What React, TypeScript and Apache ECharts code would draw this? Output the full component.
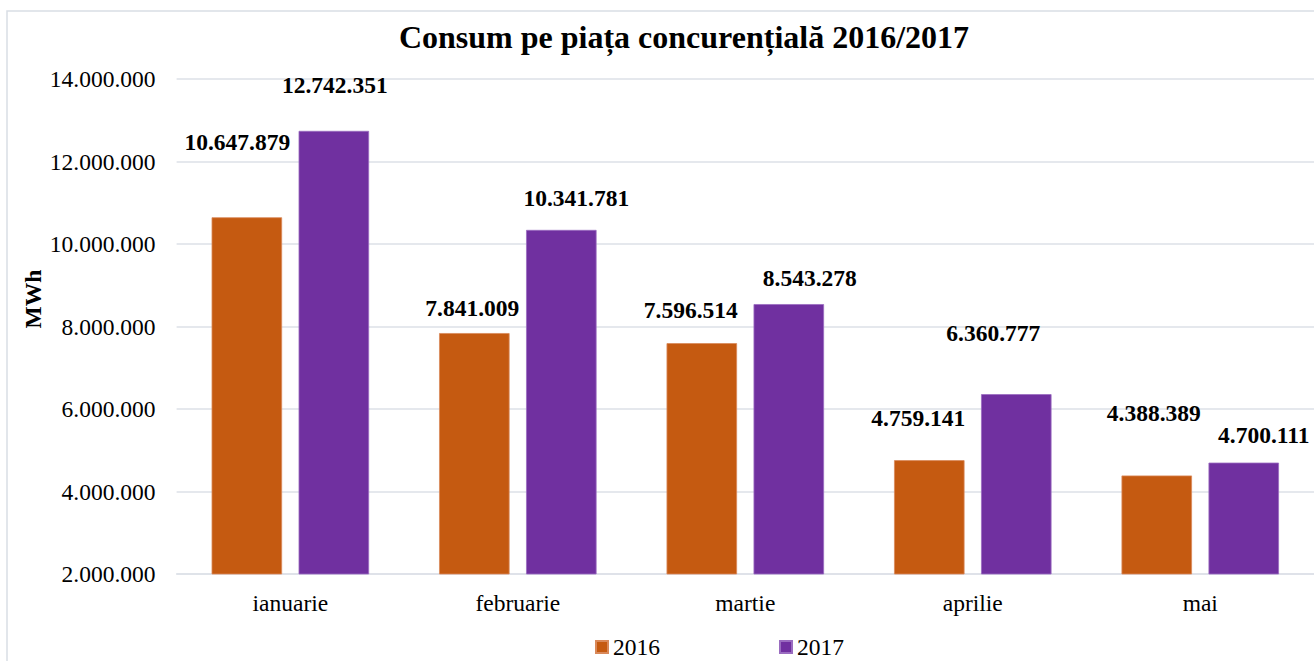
import React, { useEffect, useRef } from "react";
import * as echarts from "echarts";

const categories = ["ianuarie", "februarie", "martie", "aprilie", "mai"];
const values2016 = [10647879, 7841009, 7596514, 4759141, 4388389];
const values2017 = [12742351, 10341781, 8543278, 6360777, 4700111];
const seriesNames = ["2016", "2017"];
const yTicks = { min: 2000000, max: 14000000, interval: 2000000 };

// manual label offsets (like the moved labels of the original)
const offsets2016: [number, number][] = [[-9.5, -63], [-2, -13], [-11, -21], [-11, -30], [-3, -50]];
const offsets2017: [number, number][] = [[1, -34], [15, -20], [21, -14], [-23, -49], [20, -16]];

const FONT = "'Liberation Serif', 'Times New Roman', serif";

function fmt(v: number): string {
  const s = Math.round(v).toString();
  return s.replace(/\B(?=(\d{3})+(?!\d))/g, ".");
}

export default function App() {
  const ref = useRef<HTMLDivElement>(null);
  useEffect(() => {
    if (!ref.current) return;
    const chart = echarts.init(ref.current, undefined, { renderer: "svg" });
    const labelBase = {
      show: true,
      position: "top",
      distance: 0,
      fontFamily: FONT,
      fontWeight: "bold",
      fontSize: 23.5,
      lineHeight: 24,
      color: "#000",
      formatter: (p: any) => fmt(p.value),
    };
    const mk = (vals: number[], offs: [number, number][]) =>
      vals.map((v, i) => ({ value: v, label: { offset: offs[i] } }));
    chart.setOption({
      animation: false,
      title: {
        text: "Consum pe piața concurențială 2016/2017",
        left: 684,
        top: 21,
        padding: 0,
        textAlign: "center",
        textStyle: { fontFamily: FONT, fontWeight: "bold", fontSize: 32, color: "#000" },
      },
      graphic: [
        {
          type: "rect",
          shape: { x: 7, y: 11, width: 1330, height: 680 },
          style: { fill: "none", stroke: "#d9dee5", lineWidth: 1.5 },
          silent: true,
          z: -1,
        },
        {
          type: "text",
          x: 33,
          y: 299,
          rotation: Math.PI / 2,
          style: {
            text: "MWh",
            fontFamily: FONT,
            fontWeight: "bold",
            fontSize: 23.5,
            fill: "#000",
            align: "center",
            verticalAlign: "middle",
          },
        },
      ],
      legend: {
        data: seriesNames,
        left: 595,
        top: 635,
        padding: 0,
        icon: "rect",
        itemWidth: 12,
        itemHeight: 12,
        itemGap: 119,
        textStyle: { fontFamily: FONT, fontSize: 23.5, color: "#000" },
      },
      grid: { left: 176.6, right: -2, top: 79, bottom: 87, containLabel: false },
      xAxis: {
        type: "category",
        data: categories,
        axisTick: { show: false },
        axisLine: { show: true, lineStyle: { color: "#dde1e7", width: 1.5 } },
        axisLabel: { fontFamily: FONT, fontSize: 23.5, color: "#000", margin: 17 },
      },
      yAxis: {
        type: "value",
        min: yTicks.min,
        max: yTicks.max,
        interval: yTicks.interval,
        axisLine: { show: false },
        axisTick: { show: false },
        splitLine: { lineStyle: { color: "#dde1e7", width: 1.5 } },
        axisLabel: {
          fontFamily: FONT,
          fontSize: 23.5,
          color: "#000",
          margin: 21,
          formatter: (v: number) => fmt(v),
        },
      },
      series: [
        {
          name: seriesNames[0],
          type: "bar",
          data: mk(values2016, offsets2016),
          barWidth: 70.5,
          barGap: "23.4%",
          itemStyle: { color: "#C55A11", borderColor: "#d9895a", borderWidth: 0.8 },
          label: labelBase,
        },
        {
          name: seriesNames[1],
          type: "bar",
          data: mk(values2017, offsets2017),
          barWidth: 70.5,
          barGap: "23.4%",
          itemStyle: { color: "#7030A0", borderColor: "#9a6cc0", borderWidth: 0.8 },
          label: labelBase,
        },
      ],
    });
    return () => chart.dispose();
  }, []);
  return (
    <div
      ref={ref}
      style={{ position: "fixed", left: 0, top: 0, width: 1314, height: 661, background: "#fff" }}
    />
  );
}
